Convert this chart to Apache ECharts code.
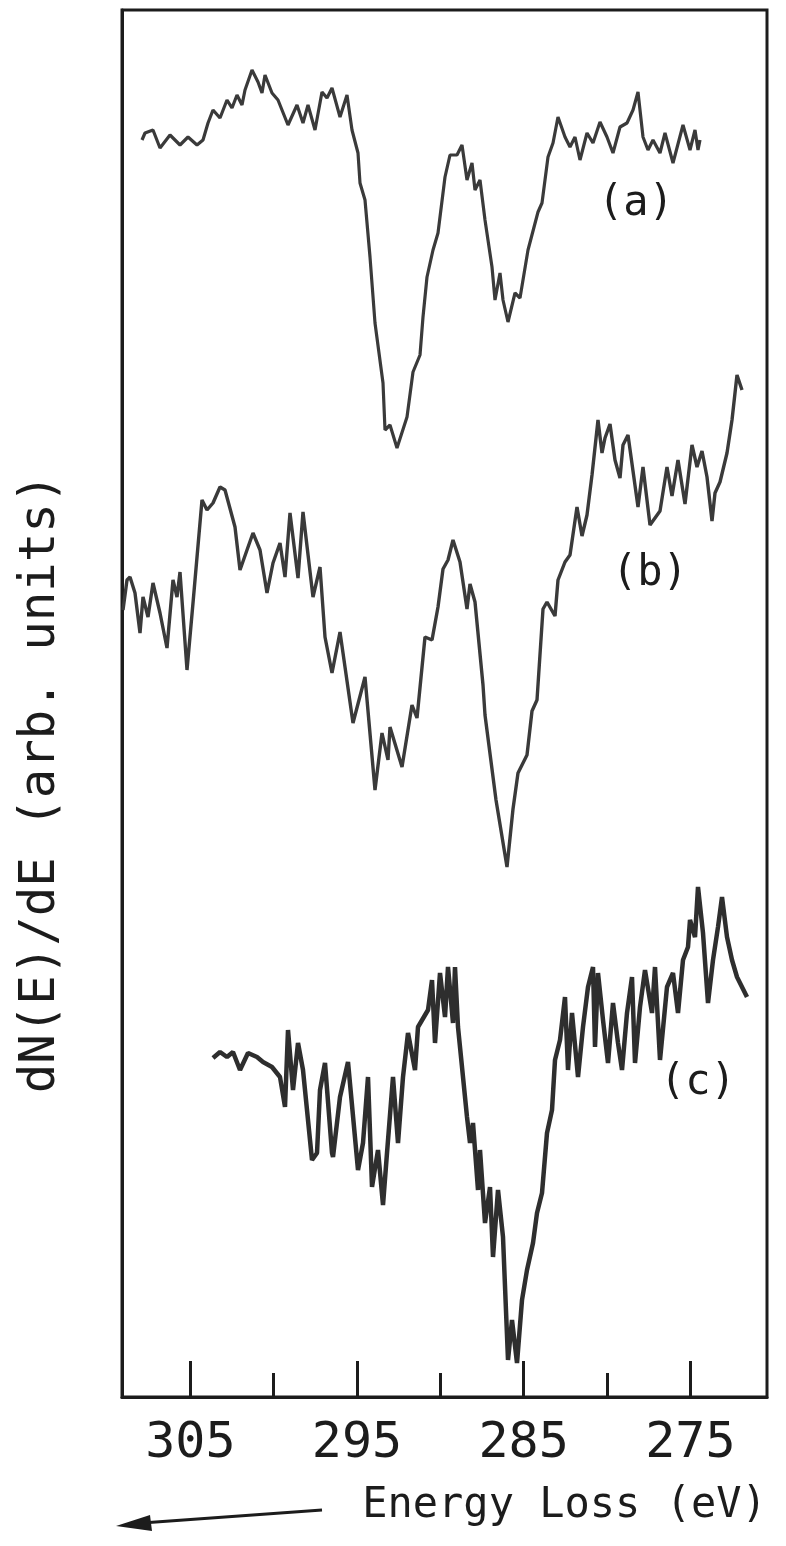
<!DOCTYPE html>
<html>
<head>
<meta charset="utf-8">
<script src="https://cdn.jsdelivr.net/npm/echarts@6/dist/echarts.min.js"></script>
<style>
  html, body { margin: 0; padding: 0; background: #ffffff; }
  #chart { width: 786px; height: 1546px; }
</style>
</head>
<body>
<div id="chart"></div>
<script>
// ---- Data (energy loss in eV, dN/dE in arbitrary units) ----
const energyA = [307.90,307.72,307.24,306.82,306.22,305.62,305.14,304.60,304.24,303.94,303.64,303.22,302.80,302.50,302.20,301.90,301.72,301.30,300.94,300.70,300.52,300.10,299.74,299.14,298.60,298.24,297.94,297.52,297.10,296.80,296.50,296.02,295.60,295.30,294.94,294.82,294.52,294.22,293.92,293.44,293.32,293.02,292.60,292.00,291.64,291.22,291.04,290.80,290.44,290.14,289.72,289.42,289.00,288.70,288.40,288.10,287.92,287.62,287.32,286.90,286.72,286.42,286.24,285.94,285.52,285.22,284.74,284.14,283.90,283.54,283.24,282.94,282.52,282.22,281.92,281.62,281.20,280.84,280.42,280.00,279.64,279.22,278.80,278.44,278.14,277.84,277.54,277.24,276.82,276.52,276.04,275.44,275.02,274.72,274.54,274.42];
const signalA = [125.7,126.4,126.7,124.9,126.2,125.2,126.0,125.2,125.7,127.4,128.7,127.9,129.7,128.9,130.2,129.2,130.7,132.7,131.5,130.4,132.2,130.4,129.7,127.2,129.2,127.4,129.2,126.7,130.5,129.9,130.9,128.0,130.2,126.7,124.4,121.4,119.7,114.0,107.4,101.4,96.7,97.2,94.9,98.0,102.5,104.2,108.0,112.0,114.7,116.4,122.0,124.2,124.2,125.2,121.7,123.4,120.7,121.7,117.7,113.0,109.7,112.4,109.7,107.5,110.4,109.9,114.7,118.5,119.4,124.0,125.4,128.0,126.0,125.0,126.0,123.7,126.4,125.4,127.5,126.0,124.4,127.0,127.4,128.7,130.5,126.0,124.7,125.7,124.4,126.4,123.4,127.2,124.7,126.7,124.7,125.7];

const energyB = [309.04,308.80,308.62,308.32,308.02,307.84,307.54,307.24,306.82,306.40,306.04,305.80,305.62,305.20,304.84,304.30,304.00,303.64,303.22,302.92,302.32,302.02,301.60,301.24,300.82,300.40,300.04,299.62,299.32,299.02,298.54,298.24,297.64,297.22,296.92,296.50,296.02,295.24,294.52,293.92,293.50,293.14,293.02,292.30,291.70,291.40,290.92,290.50,290.14,289.84,289.54,289.24,288.82,288.40,288.22,287.92,287.44,287.32,286.66,286.00,285.64,285.34,284.80,284.50,284.20,283.84,283.60,283.12,282.94,282.52,282.22,281.80,281.50,281.20,280.90,280.54,280.30,280.12,279.82,279.52,279.22,279.04,278.74,278.44,278.14,277.84,277.42,277.12,276.82,276.40,276.10,275.74,275.32,274.90,274.60,274.30,274.00,273.70,273.52,273.22,272.80,272.50,272.20,271.90];
const signalB = [78.7,81.7,82.0,80.4,76.4,80.0,78.0,81.4,78.4,74.9,81.7,80.0,82.5,72.7,79.4,89.7,88.7,89.4,91.0,90.7,87.0,82.7,84.7,86.4,84.7,80.4,83.4,85.4,82.0,88.4,81.9,88.5,80.0,83.0,76.0,72.4,76.5,67.4,72.0,60.7,66.4,63.7,67.0,63.0,69.2,67.9,76.0,75.7,79.0,82.8,83.7,85.7,83.5,78.8,81.3,79.5,71.2,68.2,59.7,53.0,58.8,62.4,64.2,68.6,69.7,78.8,79.5,78.1,81.7,83.5,84.2,89.0,86.1,88.2,92.2,97.7,94.4,95.9,97.3,93.7,91.9,95.2,96.2,92.6,89.0,93.0,87.2,87.9,88.6,93.0,90.1,93.7,89.3,95.2,93.0,94.6,92.0,87.6,90.4,91.5,94.4,97.7,102.2,100.7];

const energyC = [303.64,303.22,302.80,302.44,302.02,301.54,301.00,300.64,300.10,299.62,299.32,299.14,298.84,298.54,298.24,297.70,297.40,297.22,296.92,296.50,296.44,296.02,295.54,294.94,294.64,294.34,294.10,293.74,293.44,293.20,292.84,292.54,292.24,291.94,291.52,291.34,290.74,290.50,290.32,290.02,289.72,289.54,289.24,289.12,288.94,288.40,288.22,288.04,287.74,287.62,287.32,287.02,286.84,286.54,286.24,285.94,285.70,285.40,285.10,284.80,284.44,284.20,283.90,283.60,283.30,283.12,282.82,282.52,282.34,282.10,281.74,281.44,281.14,280.84,280.72,280.54,280.24,279.94,279.64,279.34,279.10,278.80,278.50,278.32,278.02,277.72,277.30,277.12,276.82,276.40,276.04,275.74,275.44,275.14,275.02,274.72,274.54,274.24,273.94,273.64,273.34,273.10,272.80,272.50,272.20,271.60];
const signalC = [33.9,34.5,34.0,34.5,32.7,34.4,34.0,33.5,33.0,32.0,29.0,36.7,30.7,35.4,32.7,23.7,24.4,30.7,33.4,24.4,24.0,30.0,33.5,22.7,25.4,32.0,21.0,24.7,19.2,24.4,32.0,25.4,32.0,36.4,32.7,37.0,38.7,41.7,35.4,42.4,38.0,43.0,37.4,43.0,37.0,28.0,25.4,27.4,20.7,24.7,17.4,21.0,14.0,20.7,16.0,3.7,7.7,3.4,9.7,12.7,15.4,18.4,20.4,26.4,28.7,33.7,35.7,40.0,32.7,38.4,32.0,37.0,41.0,43.0,35.0,42.4,37.7,33.4,39.4,35.4,32.7,38.4,42.0,33.4,39.0,42.7,38.4,43.0,33.7,41.0,42.4,38.4,43.7,45.0,47.7,46.0,51.0,46.4,39.4,43.7,47.0,50.0,46.0,43.7,42.0,40.0];

const majorTicks = [305, 295, 285, 275];
const minorTicks = [300, 290, 280];
const seriesLabels = ['(a)', '(b)', '(c)'];

const xTitle = 'Energy Loss (eV)';
const yTitle = 'dN(E)/dE (arb. units)';

// ---- Build chart ----
const pairs = (xs, ys) => xs.map((x, i) => [x, ys[i]]);
const ink = '#1c1c1c';
const curve = '#3a3a3a';
const mono = '"DejaVu Sans Mono", "Liberation Mono", monospace';

const chart = echarts.init(document.getElementById('chart'), null, { renderer: 'canvas' });

const option = {
  backgroundColor: '#ffffff',
  animation: false,
  grid: {
    left: 122, right: 19, top: 10, bottom: 149,
    show: true, borderColor: ink, borderWidth: 3, backgroundColor: 'transparent'
  },
  xAxis: [
    {
      type: 'value', inverse: true, min: 270.4, max: 309.1, position: 'bottom',
      axisLine: { show: true, lineStyle: { color: ink, width: 3 } },
      axisTick: { show: true, inside: true, length: 36, customValues: majorTicks, lineStyle: { color: ink, width: 3 } },
      axisLabel: { show: true, customValues: majorTicks, margin: 22, color: ink, fontSize: 50, fontFamily: mono },
      splitLine: { show: false },
      name: xTitle, nameLocation: 'middle', nameGap: 88,
      nameTextStyle: { color: ink, fontSize: 42, fontFamily: mono, padding: [0, 0, 0, 240] }
    },
    {
      type: 'value', inverse: true, min: 270.4, max: 309.1, position: 'bottom',
      axisLine: { show: false },
      axisTick: { show: true, inside: true, length: 24, customValues: minorTicks, lineStyle: { color: ink, width: 3 } },
      axisLabel: { show: false },
      splitLine: { show: false }
    }
  ],
  yAxis: {
    type: 'value', min: 0, max: 138.7,
    axisLine: { show: true, lineStyle: { color: ink, width: 3 } },
    axisTick: { show: false }, axisLabel: { show: false }, splitLine: { show: false },
    name: yTitle, nameLocation: 'middle', nameRotate: 90, nameGap: 56,
    nameTextStyle: { color: ink, fontSize: 49, fontFamily: mono, padding: [0, 160, 0, 0] }
  },
  series: [
    { name: seriesLabels[0], type: 'line', data: pairs(energyA, signalA), showSymbol: false,
      lineStyle: { color: curve, width: 3.2 } },
    { name: seriesLabels[1], type: 'line', data: pairs(energyB, signalB), showSymbol: false,
      lineStyle: { color: curve, width: 3.4 } },
    { name: seriesLabels[2], type: 'line', data: pairs(energyC, signalC), showSymbol: false,
      lineStyle: { color: '#2e2e2e', width: 4.5 } }
  ],
  graphic: [
    { type: 'text', left: 598, top: 183, style: { text: seriesLabels[0], fill: ink, fontSize: 42, fontFamily: mono } },
    { type: 'text', left: 612, top: 553, style: { text: seriesLabels[1], fill: ink, fontSize: 42, fontFamily: mono } },
    { type: 'text', left: 660, top: 1062, style: { text: seriesLabels[2], fill: ink, fontSize: 42, fontFamily: mono } },
    { type: 'polyline', shape: { points: [[322, 1510], [142, 1523]] }, style: { stroke: ink, lineWidth: 3, fill: null } },
    { type: 'polygon', shape: { points: [[116, 1526], [150, 1515], [152, 1531]] }, style: { fill: ink } }
  ]
};

chart.setOption(option);
</script>
</body>
</html>
